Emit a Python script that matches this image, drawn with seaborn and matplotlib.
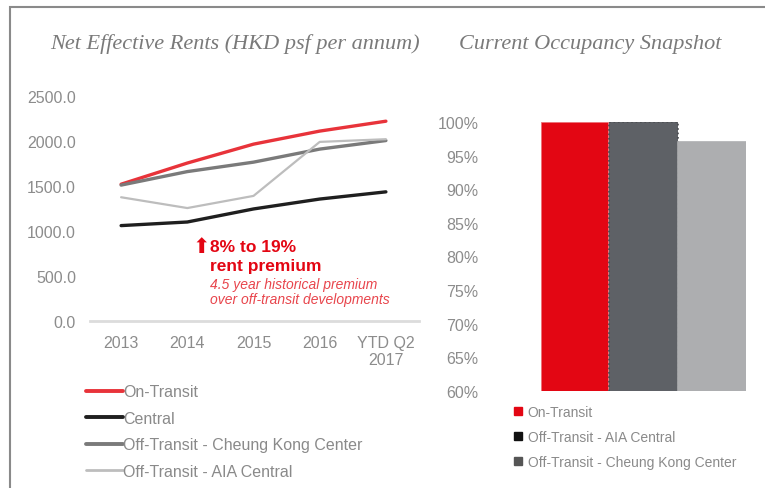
import numpy as np
import pandas as pd
import matplotlib
matplotlib.use("Agg")
import matplotlib.pyplot as plt
import seaborn as sns
from matplotlib.patches import Rectangle
from matplotlib.lines import Line2D

# ── data ──────────────────────────────────────
years = ["2013", "2014", "2015", "2016", "YTD Q2\n2017"]
on_transit = [1520, 1755, 1965, 2110, 2220]
central = [1060, 1100, 1245, 1355, 1435]
ck_center = [1510, 1660, 1765, 1910, 2005]
aia_central = [1375, 1255, 1390, 1990, 2020]

series_names = ["On-Transit", "Central", "Off-Transit - Cheung Kong Center", "Off-Transit - AIA Central"]
series_values = [on_transit, central, ck_center, aia_central]
line_colors = ["#e8333a", "#1f1f1f", "#7a7a7a", "#bdbdbd"]
line_widths = [2.4, 2.4, 2.4, 1.6]

occ_names = ["On-Transit", "Off-Transit - AIA Central", "Off-Transit - Cheung Kong Center"]
occ_values = [1.00, 1.00, 0.97]
bar_colors = ["#e30613", "#5e6166", "#adaeb0"]
bar_edges = ["#ee8a8f", "#4a4c50", "#adaeb0"]
legend_sq_colors = ["#e30613", "#111111", "#555555"]

y_ticks = [0, 500, 1000, 1500, 2000, 2500]
pct_ticks = [0.60, 0.65, 0.70, 0.75, 0.80, 0.85, 0.90, 0.95, 1.00]

sns.set_style("white")
plt.rcParams["font.family"] = ["Liberation Sans", "DejaVu Sans"]

W, H = 765, 489
fig = plt.figure(figsize=(W / 100, H / 100), dpi=100)

def fx(px):
    return px / W

def fy(py):
    return 1 - py / H

# outer frame
fig.add_artist(Rectangle((fx(10), fy(H + 5)), 1.2, fy(8) - fy(H + 5), transform=fig.transFigure,
                         fill=False, edgecolor="#8a8a8a", linewidth=1.5))

tick_color = "#8c8c8c"
title_kw = dict(family="Liberation Serif", style="italic", color="#7a7a7a", fontsize=16,
                ha="center", va="center")
fig.text(fx(235), fy(44), "Net Effective Rents (HKD psf per annum)", **title_kw)
fig.text(fx(590), fy(44), "Current Occupancy Snapshot", **title_kw)

# ── line chart ────────────────────────────────
ax1 = fig.add_axes([fx(90), fy(322), fx(419) - fx(90), fy(97) - fy(322)])
rows = []
for name, vals in zip(series_names, series_values):
    for i, v in enumerate(vals):
        rows.append({"pos": i, "value": v, "series": name})
df_lines = pd.DataFrame(rows)

for name, color, lw in zip(series_names, line_colors, line_widths):
    sub = df_lines[df_lines["series"] == name]
    sns.lineplot(data=sub, x="pos", y="value", ax=ax1, color=color, linewidth=lw, legend=False)

ax1.set_xlim(-0.47, 4.5)
ax1.set_ylim(0, 2500)
ax1.set_xticks(range(len(years)))
ax1.set_xticklabels(years)
ax1.set_yticks(y_ticks)
ax1.set_yticklabels([f"{v:.1f}" for v in y_ticks])
ax1.set_xlabel("")
ax1.set_ylabel("")
for s in ["top", "right", "left"]:
    ax1.spines[s].set_visible(False)
ax1.spines["bottom"].set_color("#dcdcdc")
ax1.spines["bottom"].set_linewidth(2)
ax1.tick_params(axis="both", length=0, labelcolor=tick_color, labelsize=11.5)
ax1.tick_params(axis="y", pad=10)
ax1.tick_params(axis="x", pad=10)

# annotation
red = "#e30613"
fig.text(fx(201), fy(247), "\u2B06", color=red, fontsize=15, ha="center", va="center",
         family="DejaVu Sans")
fig.text(fx(210), fy(247), "8% to 19%", color=red, fontsize=12.5, fontweight="bold", va="center")
fig.text(fx(210), fy(267), "rent premium", color=red, fontsize=12.5, fontweight="bold", va="center")
fig.text(fx(210), fy(285), "4.5 year historical premium", color="#e8454c", fontsize=10,
         style="italic", va="center")
fig.text(fx(210), fy(300), "over off-transit developments", color="#e8454c", fontsize=10,
         style="italic", va="center")

# left legend
handles = [Line2D([], [], color=c, linewidth=lw + 0.4) for c, lw in zip(line_colors, line_widths)]
fig.legend(handles, series_names, loc="upper left", bbox_to_anchor=(fx(80), fy(379)),
           frameon=False, fontsize=11.5, labelcolor="#8a8a8a", handlelength=2.3, handletextpad=0.0,
           labelspacing=0.72, borderaxespad=0)

# ── bar chart ─────────────────────────────────
ax2 = fig.add_axes([fx(541), fy(392), fx(746) - fx(541), fy(123) - fy(392)])
df_occ = pd.DataFrame({"name": occ_names, "occ": occ_values})
sns.barplot(data=df_occ, x="name", y="occ", hue="name", palette=bar_colors, width=1.0,
            dodge=False, legend=False, ax=ax2, saturation=1, linewidth=0)
for patch, ec, ls in zip(ax2.patches, bar_edges, ["-", ":", "-"]):
    patch.set_edgecolor(ec)
    patch.set_linewidth(1.2)
    patch.set_linestyle(ls)
ax2.set_xlim(-0.5, 2.5)
ax2.set_ylim(0.60, 1.0)
ax2.set_yticks(pct_ticks)
ax2.set_yticklabels([f"{int(round(p * 100))}%" for p in pct_ticks])
ax2.set_xticks([])
ax2.set_xlabel("")
ax2.set_ylabel("")
for s in ax2.spines.values():
    s.set_visible(False)
ax2.tick_params(axis="y", length=0, labelcolor=tick_color, labelsize=11.5, pad=45)

sq_handles = [Line2D([], [], marker="s", linestyle="none", markersize=6, color=c) for c in legend_sq_colors]
fig.legend(sq_handles, occ_names, loc="upper left", bbox_to_anchor=(fx(507), fy(400)),
           frameon=False, fontsize=10, labelcolor="#8a8a8a", handlelength=0.8, handletextpad=0.3,
           labelspacing=0.8, borderaxespad=0)

fig.savefig("out.png", dpi=100)
